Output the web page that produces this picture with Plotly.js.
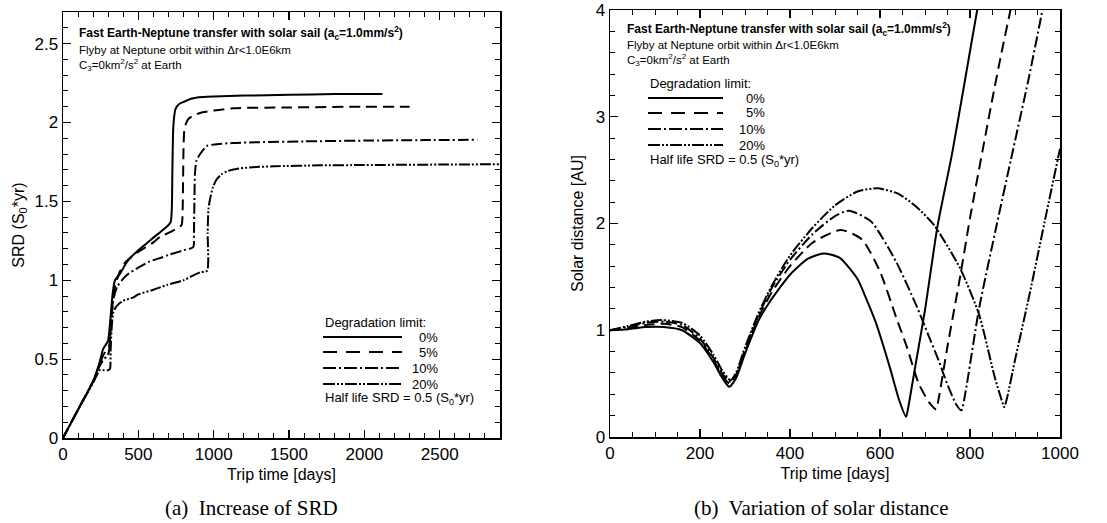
<!DOCTYPE html>
<html>
<head>
<meta charset="utf-8">
<script src="https://cdn.plot.ly/plotly-3.0.1.min.js"></script>
<style>html,body{margin:0;padding:0;background:#fff;}#chart{width:1107px;height:523px;}</style>
</head>
<body>
<div id="chart"></div>
<script>
// ---------- Data: (a) SRD vs trip time ----------
const srdDays0  = [0,100,200,240,267,290,300,315,330,345,378,420,455,500,550,600,665,700,715,722,726,731,737,745,755,775,800,850,900,1000,1200,1500,1800,2120];
const srdVal0   = [0,0.18,0.36,0.47,0.565,0.6,0.62,0.76,0.92,1.0,1.04,1.11,1.15,1.19,1.23,1.27,1.32,1.35,1.37,1.45,1.7,1.95,2.03,2.08,2.1,2.12,2.13,2.15,2.16,2.165,2.17,2.175,2.18,2.18];
const srdDays5  = [0,100,200,240,270,290,305,320,335,350,380,420,500,600,643,700,760,787,794,797,800,805,815,830,860,908,1000,1130,1500,2000,2300];
const srdVal5   = [0,0.18,0.36,0.46,0.53,0.56,0.58,0.76,0.9,0.98,1.06,1.12,1.18,1.24,1.275,1.3,1.33,1.35,1.45,1.65,1.85,1.95,1.99,2.02,2.04,2.06,2.075,2.09,2.095,2.1,2.1];
const srdDays10 = [0,100,200,240,270,295,305,320,335,360,400,433,500,577,643,700,800,864,869,872,876,886,910,953,1000,1130,1300,1600,2000,2400,2750];
const srdVal10  = [0,0.18,0.36,0.45,0.5,0.52,0.55,0.74,0.88,0.96,1.01,1.04,1.08,1.12,1.14,1.16,1.19,1.21,1.3,1.5,1.68,1.76,1.8,1.85,1.86,1.87,1.875,1.88,1.885,1.888,1.89];
const srdDays20 = [0,100,200,245,270,300,312,316,322,332,345,370,400,464,500,600,690,800,908,956,960,965,975,995,1020,1050,1087,1150,1240,1400,1700,2000,2500,2900];
const srdVal20  = [0,0.18,0.35,0.43,0.43,0.43,0.44,0.55,0.68,0.79,0.82,0.85,0.87,0.89,0.91,0.94,0.97,1.0,1.05,1.06,1.3,1.45,1.51,1.59,1.64,1.67,1.69,1.705,1.715,1.722,1.728,1.73,1.733,1.735];

// ---------- Data: (b) Solar distance vs trip time ----------
const solDays0  = [0,40,80,120,160,200,230,250,265,280,300,330,354,400,440,474,510,550,566,590,622,643,658,662,680,700,728,760,790,816,830];
const solVal0   = [1.0,1.01,1.03,1.03,1.0,0.88,0.7,0.55,0.47,0.55,0.78,1.09,1.26,1.52,1.67,1.72,1.68,1.48,1.33,1.08,0.65,0.34,0.19,0.26,0.7,1.19,1.98,2.65,3.37,4.0,4.3];
const solDays5  = [0,40,80,120,160,200,230,250,266,280,300,330,360,400,450,513,560,600,636,660,686,710,725,730,750,778,800,848,870,890,900];
const solVal5   = [1.0,1.02,1.05,1.06,1.03,0.9,0.72,0.57,0.5,0.57,0.8,1.12,1.36,1.6,1.82,1.94,1.85,1.55,1.12,0.84,0.5,0.32,0.26,0.35,0.85,1.5,2.05,3.13,3.6,4.0,4.2];
const solDays10 = [0,40,80,120,160,200,230,250,267,280,300,330,360,400,450,500,531,580,636,680,707,730,749,770,781,790,820,860,891,930,961,970];
const solVal10  = [1.0,1.03,1.07,1.08,1.05,0.92,0.74,0.59,0.52,0.58,0.82,1.14,1.4,1.66,1.9,2.07,2.12,2.02,1.64,1.24,0.96,0.72,0.5,0.3,0.25,0.42,1.2,2.0,2.6,3.35,4.0,4.2];
const solDays20 = [0,40,80,115,160,200,230,250,268,280,300,330,360,400,450,500,550,594,640,680,721,778,820,855,870,876,882,900,933,970,1000];
const solVal20  = [1.0,1.04,1.08,1.095,1.07,0.95,0.77,0.62,0.53,0.6,0.84,1.16,1.42,1.7,1.96,2.17,2.3,2.33,2.28,2.16,1.98,1.58,1.15,0.56,0.35,0.28,0.36,0.72,1.35,2.1,2.7];

const seriesNames = ['0%','5%','10%','20%'];
const dashes = ['solid','11px,6px','11px,3px,2px,3px','11px,2px,2px,2px,2px,2px'];
const legendDashes = ['solid','14px,9px','13px,3px,2px,3px','12px,2px,2px,2px,2px,2px'];

const W = 1107, H = 523;
const px = x => x / W;
const py = y => 1 - y / H;

const srdX = [srdDays0, srdDays5, srdDays10, srdDays20];
const srdY = [srdVal0, srdVal5, srdVal10, srdVal20];
const solX = [solDays0, solDays5, solDays10, solDays20];
const solY = [solVal0, solVal5, solVal10, solVal20];

const traces = [];
for (let i = 0; i < 4; i++) {
  traces.push({x: srdX[i], y: srdY[i], xaxis:'x', yaxis:'y', mode:'lines', name: seriesNames[i],
    line:{color:'#000', width:2, dash:dashes[i], shape:'spline', smoothing:0.6}, showlegend:false, hoverinfo:'skip'});
}
for (let i = 0; i < 4; i++) {
  traces.push({x: solX[i], y: solY[i], xaxis:'x2', yaxis:'y2', mode:'lines', name: seriesNames[i],
    line:{color:'#000', width:2, dash:dashes[i], shape:'spline', smoothing:0.6}, showlegend:false, hoverinfo:'skip'});
}

const sans = 'Liberation Sans, Arial, sans-serif';
const axCommon = {
  showline:true, linecolor:'#000', linewidth:1.5, mirror:'allticks', ticks:'inside', ticklen:8, tickwidth:1.2, tickcolor:'#000',
  showgrid:false, zeroline:false, tickfont:{family:sans, size:17, color:'#000'}, fixedrange:true, ticklabeloverflow:'allow'
};

const layout = {
  width: W, height: H, margin:{l:0,r:0,t:0,b:0}, paper_bgcolor:'#fff', plot_bgcolor:'#fff', showlegend:false,
  xaxis: Object.assign({}, axCommon, {domain:[px(63), px(500)], range:[0,2900], tickvals:[0,500,1000,1500,2000,2500], anchor:'y',
    minor:{ticks:'inside', ticklen:5, dtick:100, tickcolor:'#000', tickwidth:1},
    title:{text:'Trip time [days]', font:{family:sans, size:16, color:'#000'}, standoff:6}}),
  yaxis: Object.assign({}, axCommon, {domain:[py(438), py(12)], range:[0,2.7], tickvals:[0,0.5,1,1.5,2,2.5], anchor:'x',
    minor:{ticks:'inside', ticklen:5, dtick:0.1, tickcolor:'#000', tickwidth:1},
    title:{text:'SRD (S<sub>0</sub>*yr)', font:{family:sans, size:16, color:'#000'}, standoff:6}}),
  xaxis2: Object.assign({}, axCommon, {domain:[px(610), px(1060)], range:[0,1000], tickvals:[0,200,400,600,800,1000], anchor:'y2',
    minor:{ticks:'inside', ticklen:5, dtick:50, tickcolor:'#000', tickwidth:1},
    title:{text:'Trip time [days]', font:{family:sans, size:16, color:'#000'}, standoff:6}}),
  yaxis2: Object.assign({}, axCommon, {domain:[py(437), py(10)], range:[0,4.0001], tickvals:[0,1,2,3,4], anchor:'x2',
    minor:{ticks:'inside', ticklen:5, dtick:0.2, tickcolor:'#000', tickwidth:1},
    title:{text:'Solar distance [AU]', font:{family:sans, size:16, color:'#000'}, standoff:8}}),
  shapes: [],
  annotations: []
};

function addText(x, y, text, size, bold, anchor) {
  layout.annotations.push({xref:'paper', yref:'paper', x:px(x), y:py(y), text: bold ? '<b>'+text+'</b>' : text,
    showarrow:false, xanchor: anchor || 'left', yanchor:'middle',
    font:{family:sans, size:size, color:'#000'}});
}

const titleTxt = 'Fast Earth-Neptune transfer with solar sail (a<sub>c</sub>=1.0mm/s<sup>2</sup>)';
const flybyTxt = 'Flyby at Neptune orbit within Δr&lt;1.0E6km';
const c3Txt = 'C<sub>3</sub>=0km<sup>2</sup>/s<sup>2</sup> at Earth';
const halfTxt = 'Half life SRD = 0.5 (S<sub>0</sub>*yr)';

// Panel (a) texts
addText(77, 33, titleTxt, 12, true);
addText(77, 50, flybyTxt, 11.5);
addText(77, 65, c3Txt, 11.5);
addText(323, 322, 'Degradation limit:', 13);
const legA = [337, 352, 368, 384];
for (let i = 0; i < 4; i++) {
  layout.shapes.push({type:'line', xref:'paper', yref:'paper', x0:px(323), x1:px(402), y0:py(legA[i]), y1:py(legA[i]),
    line:{color:'#000', width:2, dash:legendDashes[i]}});
  addText(440, legA[i], seriesNames[i], 13, false, 'right');
}
addText(323, 398, halfTxt, 13);

// Panel (b) texts
addText(625, 29, titleTxt, 12, true);
addText(625, 45, flybyTxt, 11.5);
addText(625, 60, c3Txt, 11.5);
addText(648, 83, 'Degradation limit:', 13);
const legB = [98, 113, 129, 145];
for (let i = 0; i < 4; i++) {
  layout.shapes.push({type:'line', xref:'paper', yref:'paper', x0:px(648), x1:px(723), y0:py(legB[i]), y1:py(legB[i]),
    line:{color:'#000', width:2, dash:legendDashes[i]}});
  addText(767, legB[i], seriesNames[i], 13, false, 'right');
}
addText(648, 161, halfTxt, 13);

// Captions
const serif = 'Liberation Serif, Times New Roman, serif';
layout.annotations.push({xref:'paper', yref:'paper', x:px(251), y:py(508), text:'(a)  Increase of SRD', showarrow:false,
  xanchor:'center', yanchor:'middle', font:{family:serif, size:21, color:'#000'}});
layout.annotations.push({xref:'paper', yref:'paper', x:px(821), y:py(508), text:'(b)  Variation of solar distance', showarrow:false,
  xanchor:'center', yanchor:'middle', font:{family:serif, size:21, color:'#000'}});

Plotly.newPlot('chart', traces, layout, {staticPlot:true, displayModeBar:false});
</script>
</body>
</html>
